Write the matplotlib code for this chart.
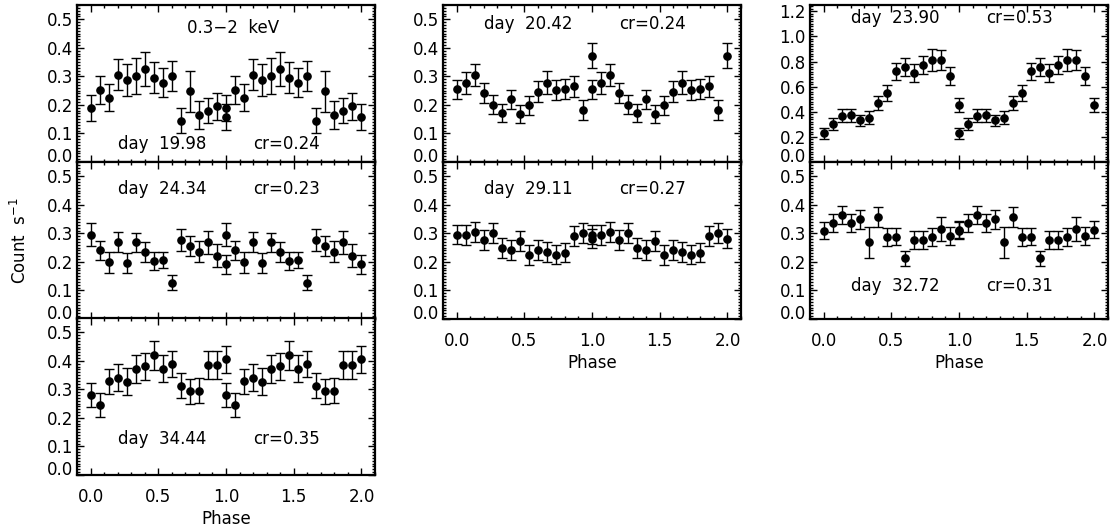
import matplotlib
matplotlib.use("Agg")
import matplotlib.pyplot as plt
from matplotlib.ticker import MultipleLocator, FormatStrFormatter

plt.rcParams['font.family'] = ['DejaVu Sans']

# phase bins of one cycle (repeated for the second cycle)
phase = [0.000, 0.067, 0.133, 0.200, 0.267, 0.333, 0.400, 0.467,
         0.533, 0.600, 0.667, 0.733, 0.800, 0.867, 0.933, 1.000]

# day 19.98
r1998 = [0.188, 0.252, 0.225, 0.306, 0.287, 0.301, 0.325, 0.295,
         0.278, 0.301, 0.145, 0.247, 0.165, 0.180, 0.195, 0.158]
e1998 = [0.045, 0.050, 0.048, 0.055, 0.056, 0.063, 0.059, 0.055,
         0.052, 0.052, 0.044, 0.073, 0.048, 0.045, 0.047, 0.045]
# day 24.34
r2434 = [0.296, 0.240, 0.198, 0.271, 0.196, 0.268, 0.235, 0.203,
         0.206, 0.127, 0.277, 0.255, 0.236, 0.268, 0.222, 0.191]
e2434 = [0.041, 0.035, 0.036, 0.035, 0.034, 0.035, 0.036, 0.031,
         0.029, 0.027, 0.039, 0.035, 0.036, 0.039, 0.039, 0.032]
# day 34.44
r3444 = [0.279, 0.246, 0.329, 0.341, 0.327, 0.371, 0.381, 0.420,
         0.373, 0.389, 0.313, 0.293, 0.295, 0.386, 0.386, 0.406]
e3444 = [0.042, 0.042, 0.044, 0.047, 0.047, 0.048, 0.048, 0.051,
         0.048, 0.047, 0.044, 0.044, 0.044, 0.049, 0.049, 0.047]
# day 20.42
r2042 = [0.254, 0.278, 0.304, 0.242, 0.200, 0.172, 0.220, 0.168,
         0.198, 0.246, 0.278, 0.252, 0.255, 0.265, 0.182, 0.373]
e2042 = [0.035, 0.039, 0.038, 0.036, 0.033, 0.032, 0.033, 0.032,
         0.032, 0.037, 0.040, 0.035, 0.036, 0.036, 0.034, 0.045]
# day 29.11
r2911 = [0.296, 0.295, 0.304, 0.276, 0.302, 0.249, 0.241, 0.273,
         0.225, 0.242, 0.235, 0.225, 0.232, 0.290, 0.302, 0.282]
e2911 = [0.035, 0.035, 0.035, 0.035, 0.035, 0.036, 0.036, 0.035,
         0.035, 0.035, 0.035, 0.033, 0.033, 0.035, 0.036, 0.035]
# day 23.90
r2390 = [0.228, 0.305, 0.367, 0.372, 0.331, 0.354, 0.469, 0.551,
         0.723, 0.754, 0.705, 0.772, 0.813, 0.810, 0.685, 0.456]
e2390 = [0.045, 0.049, 0.052, 0.053, 0.045, 0.051, 0.056, 0.064,
         0.068, 0.071, 0.072, 0.072, 0.085, 0.081, 0.070, 0.056]
# day 32.72
r3272 = [0.310, 0.336, 0.364, 0.336, 0.349, 0.269, 0.356, 0.287,
         0.289, 0.212, 0.277, 0.277, 0.287, 0.315, 0.292, 0.313]
e3272 = [0.031, 0.032, 0.031, 0.032, 0.032, 0.055, 0.035, 0.031,
         0.030, 0.026, 0.031, 0.031, 0.032, 0.041, 0.032, 0.030]

days = ["19.98", "24.34", "34.44", "20.42", "29.11", "23.90", "32.72"]
crs = ["0.24", "0.23", "0.35", "0.24", "0.27", "0.53", "0.31"]

W, H = 1115, 532
fig = plt.figure(figsize=(W / 100, H / 100), dpi=100)

col_left = [77, 443, 810]
row_top = [5, 162, 318]
aw = 298
ah = 157

# (col, row, rates, errors, day index, ymax, text y, x-labels)
panels = [
    (0, 0, r1998, e1998, 0, 0.55, 0.033, False),
    (0, 1, r2434, e2434, 1, 0.55, 0.425, False),
    (0, 2, r3444, e3444, 2, 0.55, 0.093, True),
    (1, 0, r2042, e2042, 3, 0.55, 0.452, False),
    (1, 1, r2911, e2911, 4, 0.55, 0.425, True),
    (2, 0, r2390, e2390, 5, 1.25, 1.075, False),
    (2, 1, r3272, e3272, 6, 0.55, 0.083, True),
]

fs = 12
for col, row, rate, err, di, ymax, ty, xlab in panels:
    left = col_left[col] / W
    bottom = 1 - (row_top[row] + ah) / H
    ax = fig.add_axes([left, bottom, aw / W, ah / H])
    x = list(phase) + [p + 1 for p in phase]
    y = list(rate) + list(rate)
    e = list(err) + list(err)
    ax.errorbar(x, y, yerr=e, fmt='o', color='black', ms=5.2,
                elinewidth=1.0, capsize=3.4, capthick=1.0, ecolor='black')
    ax.set_xlim(-0.1, 2.1)
    ax.set_ylim(0, ymax)
    ax.xaxis.set_major_locator(MultipleLocator(0.5))
    ax.xaxis.set_minor_locator(MultipleLocator(0.1))
    if ymax > 1:
        ax.yaxis.set_major_locator(MultipleLocator(0.2))
        ax.yaxis.set_minor_locator(MultipleLocator(0.02))
    else:
        ax.yaxis.set_major_locator(MultipleLocator(0.1))
        ax.yaxis.set_minor_locator(MultipleLocator(0.01))
    ax.yaxis.set_major_formatter(FormatStrFormatter('%.1f'))
    ax.xaxis.set_major_formatter(FormatStrFormatter('%.1f'))
    ax.tick_params(which='both', direction='in', top=True, right=True,
                   width=1.0, labelsize=fs, colors='black')
    ax.tick_params(which='major', length=5)
    ax.tick_params(which='minor', length=2.5)
    ax.tick_params(axis='y', pad=3)
    ax.tick_params(axis='x', pad=9)
    if not xlab:
        ax.tick_params(axis='x', labelbottom=False)
    else:
        ax.set_xlabel('Phase', fontsize=fs, labelpad=3)
    for s in ax.spines.values():
        s.set_linewidth(1.6)
    ax.text(0.2, ty, 'day  ' + days[di], fontsize=fs, ha='left', va='bottom')
    ax.text(1.2, ty, 'cr=' + crs[di], fontsize=fs, ha='left', va='bottom')
    if col == 0 and row == 0:
        ax.text(1.05, 0.47, '0.3\u22122  keV', fontsize=fs, ha='center', va='center')
    if col == 0 and row == 1:
        ax.set_ylabel('Count  s$^{-1}$', fontsize=fs, labelpad=12)
    # lift the 0.0 label so it clears the panel below
    fig.canvas.draw()
    for t in ax.yaxis.get_major_ticks():
        if abs(t.get_loc()) < 1e-9:
            t.label1.set_verticalalignment('baseline')

fig.savefig('out.png', dpi=100)
